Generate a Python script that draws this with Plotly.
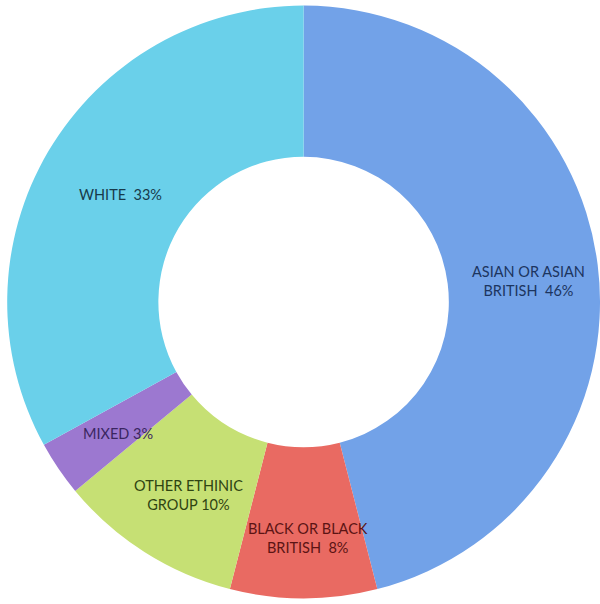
import plotly.graph_objects as go

# Ethnic group shares (percent), clockwise from 12 o'clock
groups = ["ASIAN OR ASIAN BRITISH", "BLACK OR BLACK BRITISH", "OTHER ETHINIC GROUP", "MIXED", "WHITE"]
shares = [46, 8, 10, 3, 33]

# Label text as displayed on the ring (line breaks where the label wraps)
label_lines = [
    ("ASIAN OR ASIAN", "BRITISH  {v}%"),
    ("BLACK OR BLACK", "BRITISH  {v}%"),
    ("OTHER ETHINIC", "GROUP {v}%"),
    ("", "MIXED {v}%"),
    ("", "WHITE  {v}%"),
]

slice_colors = ["#72a2e8", "#e96a62", "#c6e074", "#9c78d0", "#6ad0ea"]
text_colors = ["#1c3560", "#5c1414", "#2f4412", "#3a2660", "#173a4a"]

# Label centre points in pixels (x, y from top)
label_xy = [(528, 281), (308, 538), (188, 495), (118, 433), (120, 195)]

W, H = 600, 604

fig = go.Figure(
    go.Pie(
        labels=groups,
        values=shares,
        sort=False,
        direction="clockwise",
        rotation=0,
        hole=0.49,
        marker=dict(colors=slice_colors, line=dict(width=0)),
        textinfo="none",
        hoverinfo="label+percent",
        domain=dict(x=[0.012, 1.0], y=[0.0, 1.0]),
        showlegend=False,
    )
)

for (l1, l2), v, (px, py), tc in zip(label_lines, shares, label_xy, text_colors):
    txt = (l1 + "<br>" if l1 else "") + l2.format(v=v)
    fig.add_annotation(
        x=px / W,
        y=1 - py / H,
        xref="paper",
        yref="paper",
        xanchor="center",
        yanchor="middle",
        text=txt,
        showarrow=False,
        align="center",
        font=dict(family="Lato, Open Sans, sans-serif", size=14.5, color=tc),
    )

fig.update_layout(
    width=W,
    height=H,
    margin=dict(l=0, r=0, t=0, b=0),
    paper_bgcolor="white",
    plot_bgcolor="white",
)

fig.write_html("out.html")
